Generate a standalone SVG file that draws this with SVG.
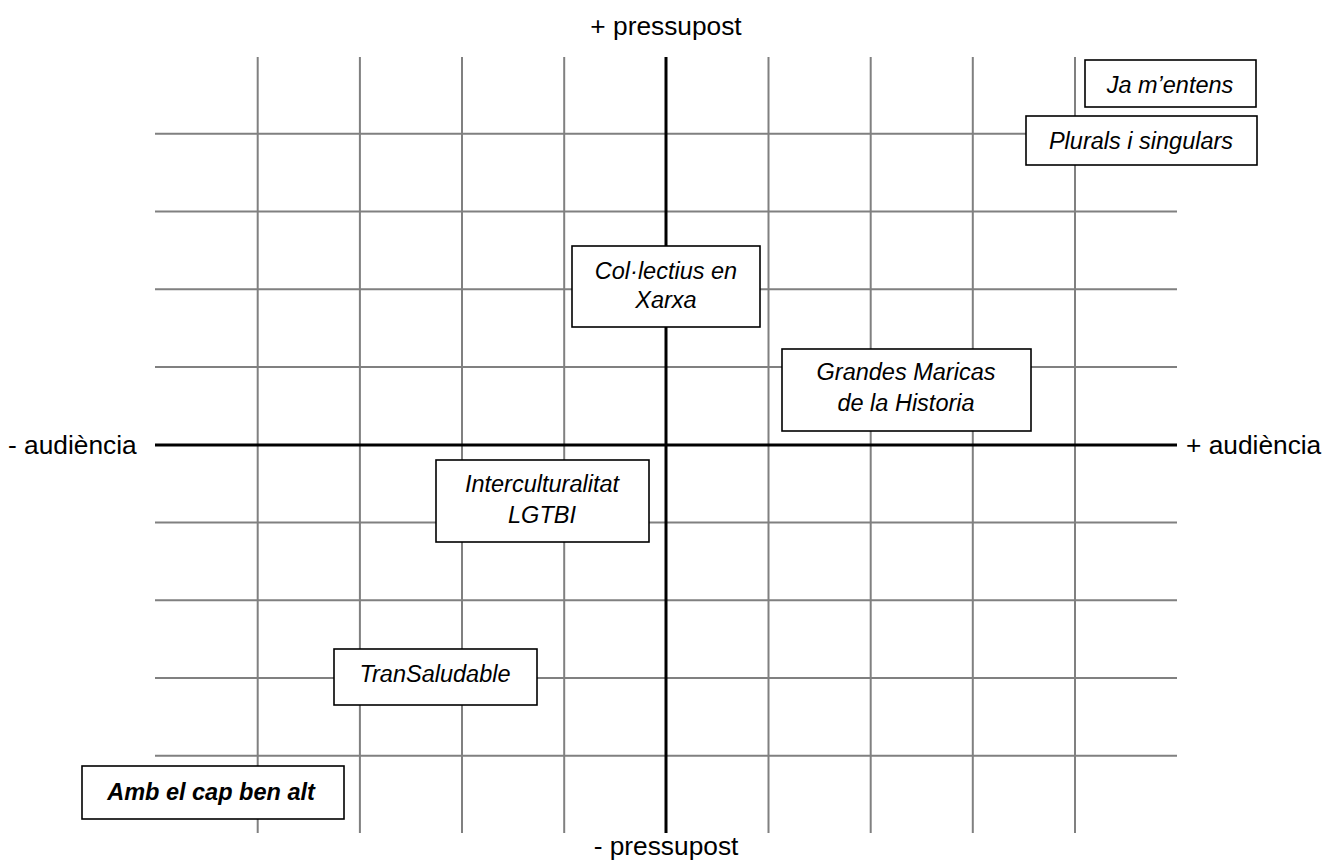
<svg xmlns="http://www.w3.org/2000/svg" width="1326" height="862" viewBox="0 0 1326 862">
<style>
.grid{stroke:#808080;stroke-width:2;fill:none}
.axis{stroke:#000;stroke-width:3;fill:none}
.lbl{font-family:"Liberation Sans",Arial,sans-serif;font-size:26.3px;fill:#000}
.box{fill:#fff;stroke:#000;stroke-width:1.6}
.bt{font-family:"Liberation Sans",Arial,sans-serif;font-size:23.5px;font-style:italic;fill:#000;text-anchor:middle}
</style>
<rect width="1326" height="862" fill="#fff"/>
<g id="grid">
<path class="grid" d="M257.7 57V833M359.9 57V833M462 57V833M564.2 57V833M768.5 57V833M870.7 57V833M972.8 57V833M1075 57V833"/>
<path class="grid" d="M155 133.7H1177M155 211.5H1177M155 289.2H1177M155 367H1177M155 522.5H1177M155 600.2H1177M155 678H1177M155 755.7H1177"/>
</g>
<g id="connectors">
<path class="axis" d="M666 57V833"/>
<path class="axis" d="M155 445H1177"/>
</g>
<g id="labels">
<text class="lbl" x="666" y="35" text-anchor="middle">+ pressupost</text>
<text class="lbl" x="666" y="855" text-anchor="middle">- pressupost</text>
<text class="lbl" x="8" y="454">- audiència</text>
<text class="lbl" x="1186" y="454">+ audiència</text>
</g>
<g id="node-ja-mentens">
<rect class="box" x="1085" y="60" width="171" height="47"/>
<text class="bt" x="1170" y="92.5">Ja m’entens</text>
</g>
<g id="node-plurals">
<rect class="box" x="1026" y="116" width="231" height="49"/>
<text class="bt" x="1141" y="148.5">Plurals i singulars</text>
</g>
<g id="node-collectius">
<rect class="box" x="572" y="246" width="188" height="81"/>
<text class="bt" x="666" y="278.5">Col·lectius en</text>
<text class="bt" x="666" y="308">Xarxa</text>
</g>
<g id="node-grandes">
<rect class="box" x="782" y="349" width="249" height="82"/>
<text class="bt" x="906" y="380">Grandes Maricas</text>
<text class="bt" x="906" y="411">de la Historia</text>
</g>
<g id="node-intercult">
<rect class="box" x="436" y="460" width="213" height="82"/>
<text class="bt" x="542" y="492">Interculturalitat</text>
<text class="bt" x="542" y="523">LGTBI</text>
</g>
<g id="node-transaludable">
<rect class="box" x="334" y="649" width="203" height="56"/>
<text class="bt" x="435" y="682">TranSaludable</text>
</g>
<g id="node-amb-el-cap">
<rect class="box" x="82" y="766" width="262" height="53" stroke-width="2.4"/>
<text class="bt" x="211" y="800" font-weight="bold" font-size="24px">Amb el cap ben alt</text>
</g>
</svg>
